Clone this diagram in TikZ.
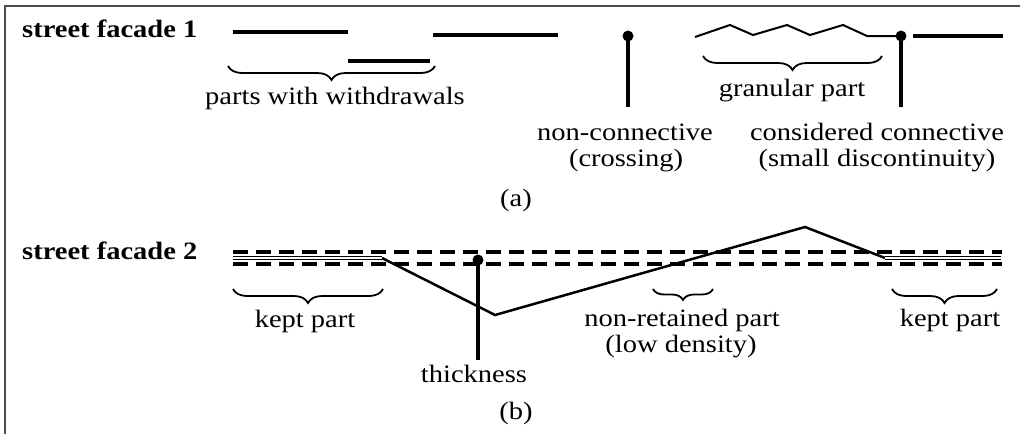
\documentclass[tikz,border=0pt]{standalone}
\usepackage{fontspec}
\setmainfont{Liberation Serif}
\usepackage{graphicx}
\usetikzlibrary{decorations.pathreplacing}
\newcommand\sx[1]{\scalebox{1.14}[1]{#1}}
\begin{document}
\begin{tikzpicture}[x=1pt,y=-1pt,
 lbl/.style={font=\fontsize{25}{27}\selectfont, inner sep=0pt, anchor=base},
 ttl/.style={font=\fontsize{25}{27}\selectfont\bfseries, inner sep=0pt, anchor=base west},
 seg/.style={line width=3.5pt},
 zig/.style={line width=2pt, line join=miter},
 pole/.style={line width=3.5pt},
 brc/.style={decorate, decoration={brace, mirror, amplitude=14pt}, line width=1.8pt},
 sbrc/.style={decorate, decoration={brace, mirror, amplitude=11pt}, line width=1.8pt},
 dot/.style={circle, fill=black, inner sep=0pt, minimum size=11pt},
 dsh/.style={line width=4pt, dash pattern=on 15pt off 8pt},
 dbl/.style={double, line width=1.2pt, double distance=1.6pt},
 sol/.style={line width=2.5pt, line join=miter},
 frame/.style={draw=black!70, line width=2pt}]
\useasboundingbox (0,0) rectangle (1020,434);
% frame
\coordinate (fa) at (1020,6);
\coordinate (fb) at (5,6);
\coordinate (fc) at (5,434);
\draw[frame] (fa) -- (fb) -- (fc);

% ---------- (a) ----------
\node[ttl] (t1) at (22,37) {\sx{street facade 1}};
\coordinate (s1a) at (233,32); \coordinate (s1b) at (348,32);
\coordinate (s2a) at (348,61); \coordinate (s2b) at (430,61);
\coordinate (s3a) at (433,35); \coordinate (s3b) at (558,35);
\draw[seg] (s1a) -- (s1b);
\draw[seg] (s2a) -- (s2b);
\draw[seg] (s3a) -- (s3b);
\coordinate (b1a) at (228,66); \coordinate (b1b) at (435,66);
\draw[brc] (b1a) -- (b1b);
\node[lbl] (pw) at (335,104) {\sx{parts with withdrawals}};

\node[dot] (d1) at (628,36) {};
\coordinate (d1e) at (628,107);
\draw[pole] (d1.center) -- (d1e);
\node[lbl] (nc1) at (625,140) {\sx{non-connective}};
\node[lbl] (nc2) at (626,166) {\sx{(crossing)}};

\node[dot] (d2) at (901,36) {};
\coordinate (d2e) at (901,107);
\draw[pole] (d2.center) -- (d2e);
\coordinate (z0) at (695,37);
\draw[zig] (z0) -- (730,25) -- (753,35) -- (787,25) -- (810,35) -- (843,25) -- (867,36) -- (d2.center);
\coordinate (s4a) at (913,36); \coordinate (s4b) at (1003,36);
\draw[seg] (s4a) -- (s4b);
\coordinate (b2a) at (703,56); \coordinate (b2b) at (882,56);
\draw[brc] (b2a) -- (b2b);
\node[lbl] (gp) at (792,96) {\sx{granular part}};
\node[lbl] (cc1) at (877,140) {\sx{considered connective}};
\node[lbl] (cc2) at (877,166) {\sx{(small discontinuity)}};
\node[lbl] (ca) at (516,206) {\sx{(a)}};

% ---------- (b) ----------
\node[ttl] (t2) at (22,259) {\sx{street facade 2}};
\coordinate (dl1a) at (233,252); \coordinate (dl1b) at (1002,252);
\coordinate (dl2a) at (233,264); \coordinate (dl2b) at (1002,264);
\draw[dsh] (dl1a) -- (dl1b);
\draw[dsh] (dl2a) -- (dl2b);
\coordinate (k1a) at (233,258); \coordinate (k1b) at (382,258);
\coordinate (low) at (495,315); \coordinate (top) at (805,227);
\coordinate (k2a) at (885,258); \coordinate (k2b) at (1001,258);
\draw[dbl] (k1a) -- (k1b);
\draw[sol] (k1b) -- (low) -- (top) -- (k2a);
\draw[dbl] (k2a) -- (k2b);

\node[dot] (d3) at (478,260) {};
\coordinate (d3e) at (478,360);
\draw[pole] (d3.center) -- (d3e);
\node[lbl] (th) at (474,382) {\sx{thickness}};

\coordinate (b3a) at (233,289); \coordinate (b3b) at (383,289);
\draw[brc] (b3a) -- (b3b);
\node[lbl] (kp1) at (305,327) {\sx{kept part}};

\coordinate (b4a) at (653,289); \coordinate (b4b) at (713,289);
\draw[sbrc] (b4a) -- (b4b);
\node[lbl] (nr1) at (682,326) {\sx{non-retained part}};
\node[lbl] (nr2) at (681,352) {\sx{(low density)}};

\coordinate (b5a) at (892,289); \coordinate (b5b) at (997,289);
\draw[brc] (b5a) -- (b5b);
\node[lbl] (kp2) at (950,326) {\sx{kept part}};
\node[lbl] (cb) at (516,419) {\sx{(b)}};
\end{tikzpicture}
\end{document}
